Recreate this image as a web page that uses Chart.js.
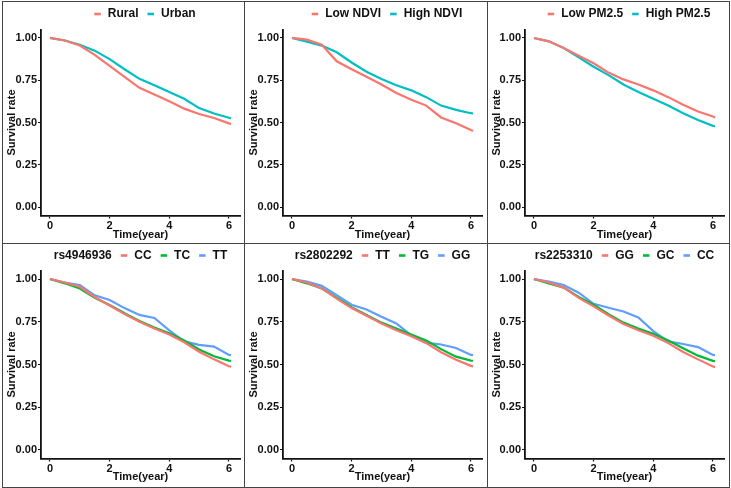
<!DOCTYPE html>
<html>
<head>
<meta charset="utf-8">
<script src="https://cdn.jsdelivr.net/npm/chart.js@4.4.1/dist/chart.umd.min.js"></script>
<style>
  body { margin: 0; background: #fff; }
  #page { position: relative; width: 731px; height: 488px; background: #fff; overflow: hidden; }
  .rule { position: absolute; background: #444; }
  canvas { position: absolute; }
</style>
</head>
<body>
<div id="page"></div>
<script>
// time grid (years) shared by every curve
const years = [0, 0.5, 1, 1.5, 2, 2.5, 3, 3.5, 4, 4.5, 5, 5.5, 6, 6.07];

// panel 1: residence
const rural = [1, 0.985, 0.955, 0.9, 0.835, 0.77, 0.705, 0.665, 0.625, 0.582, 0.55, 0.527, 0.495, 0.49];
const urban = [1, 0.985, 0.96, 0.925, 0.875, 0.815, 0.758, 0.72, 0.68, 0.64, 0.585, 0.553, 0.528, 0.525];

// panel 2: NDVI
const lowNdvi = [1, 0.99, 0.96, 0.862, 0.815, 0.77, 0.725, 0.675, 0.635, 0.6, 0.53, 0.495, 0.455, 0.45];
const highNdvi = [1, 0.978, 0.955, 0.915, 0.855, 0.8, 0.757, 0.72, 0.69, 0.65, 0.6, 0.575, 0.555, 0.553];

// panel 3: PM2.5
const lowPm = [1, 0.98, 0.94, 0.895, 0.85, 0.795, 0.755, 0.725, 0.69, 0.65, 0.605, 0.565, 0.535, 0.53];
const highPm = [1, 0.98, 0.94, 0.885, 0.83, 0.78, 0.725, 0.68, 0.64, 0.6, 0.555, 0.515, 0.48, 0.478];

// panel 4: rs4946936
const cc4 = [1, 0.98, 0.955, 0.895, 0.845, 0.795, 0.75, 0.71, 0.675, 0.63, 0.575, 0.53, 0.49, 0.487];
const tc4 = [1, 0.975, 0.945, 0.89, 0.848, 0.8, 0.755, 0.717, 0.683, 0.64, 0.588, 0.548, 0.523, 0.521];
const tt4 = [1, 0.98, 0.965, 0.905, 0.877, 0.83, 0.79, 0.772, 0.7, 0.635, 0.615, 0.605, 0.556, 0.554];

// panel 5: rs2802292
const tt5 = [1, 0.98, 0.945, 0.885, 0.83, 0.785, 0.74, 0.7, 0.665, 0.625, 0.572, 0.528, 0.492, 0.488];
const tg5 = [1, 0.975, 0.945, 0.89, 0.835, 0.79, 0.745, 0.71, 0.675, 0.64, 0.59, 0.546, 0.523, 0.522];
const gg5 = [1, 0.985, 0.96, 0.905, 0.85, 0.822, 0.78, 0.74, 0.67, 0.628, 0.617, 0.597, 0.556, 0.555];

// panel 6: rs2253310
const gg6 = [1, 0.98, 0.95, 0.89, 0.84, 0.787, 0.737, 0.7, 0.668, 0.625, 0.573, 0.53, 0.488, 0.485];
const gc6 = [1, 0.975, 0.95, 0.895, 0.85, 0.795, 0.745, 0.71, 0.68, 0.64, 0.595, 0.552, 0.521, 0.519];
const cc6 = [1, 0.985, 0.965, 0.92, 0.855, 0.832, 0.81, 0.775, 0.695, 0.635, 0.62, 0.602, 0.556, 0.554];

const xTicks = [0, 2, 4, 6];
const yTicks = [0, 0.25, 0.5, 0.75, 1];

const two = ['#F8766D', '#00BFC4'];
const three = ['#F8766D', '#00BA38', '#619CFF'];

Chart.defaults.font.family = '"Liberation Sans", Arial, sans-serif';
Chart.defaults.color = '#111';

// ggplot-like legend drawn above the panel
const ggLegend = {
  id: 'ggLegend',
  afterDraw(chart, args, opts) {
    const ctx = chart.ctx;
    const area = chart.chartArea;
    ctx.save();
    ctx.font = 'bold 12px "Liberation Sans", Arial, sans-serif';
    ctx.textBaseline = 'middle';
    const parts = [];
    if (opts.title) parts.push({ text: opts.title });
    chart.data.datasets.forEach(ds => parts.push({ text: ds.label, color: ds.borderColor }));
    let total = 0;
    parts.forEach((p, i) => {
      p.w = (p.color ? 13.5 : 0) + ctx.measureText(p.text).width;
      total += p.w + (i ? 9 : 0);
    });
    let x = (area.left + area.right) / 2 - total / 2 + opts.shift;
    const y = opts.y;
    parts.forEach(p => {
      if (p.color) {
        ctx.strokeStyle = p.color;
        ctx.lineWidth = 2.6;
        ctx.beginPath();
        ctx.moveTo(x, y);
        ctx.lineTo(x + 6.5, y);
        ctx.stroke();
        x += 13.5;
      }
      ctx.fillStyle = '#111';
      ctx.fillText(p.text, x, y);
      x += ctx.measureText(p.text).width + 9;
    });
    ctx.restore();
  }
};

const colLeft = [3, 245, 488];
const colWidth = [241, 242, 241];
const rowTop = [2, 244];
const rowHeight = [241, 243];
const plotLeft = [38, 38, 37];
const plotRight = [237, 237, 236];
const plotTop = [27.5, 26.5];
const plotBottom = [213.5, 214.5];
const titlePadBottom = [1, 3];
const legendY = [12, 11.5];
const legendShift = [4.5, 0];

const page = document.getElementById('page');

function addRule(x, y, w, h) {
  const d = document.createElement('div');
  d.className = 'rule';
  d.style.left = x + 'px';
  d.style.top = y + 'px';
  d.style.width = w + 'px';
  d.style.height = h + 'px';
  page.appendChild(d);
}
[2, 244, 487, 729].forEach(x => addRule(x, 1, 1, 487));
[1, 243, 487].forEach(y => addRule(2, y, 728, 1));

function drawPanel(col, row, legendTitle, names, series, colors) {
  const W = colWidth[col], H = rowHeight[row];
  const canvas = document.createElement('canvas');
  canvas.width = W;
  canvas.height = H;
  canvas.style.left = colLeft[col] + 'px';
  canvas.style.top = rowTop[row] + 'px';
  canvas.style.width = W + 'px';
  canvas.style.height = H + 'px';
  page.appendChild(canvas);

  const tickFont = { size: 11, weight: 'bold' };
  new Chart(canvas, {
    type: 'line',
    data: {
      datasets: series.map((vals, i) => ({
        label: names[i],
        data: years.map((t, j) => ({ x: t, y: vals[j] })),
        borderColor: colors[i],
        backgroundColor: colors[i],
        borderWidth: 2.2,
        pointRadius: 0,
        tension: 0,
        fill: false
      }))
    },
    options: {
      responsive: false,
      animation: false,
      devicePixelRatio: 1,
      layout: { padding: { top: plotTop[row], right: W - plotRight[col], left: 0, bottom: 0 } },
      plugins: {
        legend: { display: false },
        tooltip: { enabled: false },
        ggLegend: { title: legendTitle, y: legendY[row], shift: legendShift[row] }
      },
      scales: {
        x: {
          type: 'linear',
          min: -0.3,
          max: 6.37,
          afterBuildTicks: s => { s.ticks = xTicks.map(v => ({ value: v })); },
          afterFit: s => { s.height = H - plotBottom[row]; },
          ticks: { font: tickFont, color: '#111', padding: 1, maxRotation: 0 },
          grid: { drawOnChartArea: false, drawTicks: true, tickLength: 3, tickWidth: 1.2, tickColor: '#111' },
          border: { display: true, color: '#111', width: 1.8 },
          title: { display: true, text: 'Time(year)', font: { size: 11, weight: 'bold' }, color: '#111', padding: { top: 0, bottom: titlePadBottom[row] } }
        },
        y: {
          min: -0.05,
          max: 1.05,
          afterBuildTicks: s => { s.ticks = yTicks.map(v => ({ value: v })); },
          afterFit: s => { s.width = plotLeft[col]; },
          ticks: { font: tickFont, color: '#111', padding: 1, callback: v => v.toFixed(2) },
          grid: { drawOnChartArea: false, drawTicks: true, tickLength: 3, tickWidth: 1.2, tickColor: '#111' },
          border: { display: true, color: '#111', width: 1.8 },
          title: { display: true, text: 'Survival rate', font: { size: 11, weight: 'bold' }, color: '#111', padding: { top: 2.4, bottom: 0 } }
        }
      }
    },
    plugins: [ggLegend]
  });
}

drawPanel(0, 0, '', ['Rural', 'Urban'], [rural, urban], two);
drawPanel(1, 0, '', ['Low NDVI', 'High NDVI'], [lowNdvi, highNdvi], two);
drawPanel(2, 0, '', ['Low PM2.5', 'High PM2.5'], [lowPm, highPm], two);
drawPanel(0, 1, 'rs4946936', ['CC', 'TC', 'TT'], [cc4, tc4, tt4], three);
drawPanel(1, 1, 'rs2802292', ['TT', 'TG', 'GG'], [tt5, tg5, gg5], three);
drawPanel(2, 1, 'rs2253310', ['GG', 'GC', 'CC'], [gg6, gc6, cc6], three);
</script>
</body>
</html>
